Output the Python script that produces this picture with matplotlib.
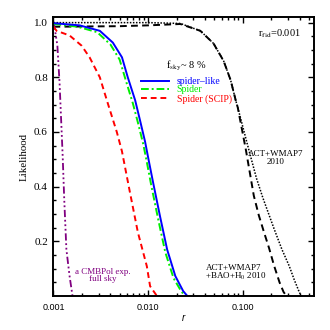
import matplotlib
matplotlib.use("Agg")
import matplotlib.pyplot as plt
from matplotlib.ticker import FixedLocator, FuncFormatter, LogLocator, NullFormatter

plt.rcParams['font.family'] = ['Liberation Serif', 'DejaVu Serif']
plt.rcParams['mathtext.fontset'] = 'stix'

# spider-like (blue, solid)
r_spl = [0.001, 0.00189, 0.00309, 0.00424, 0.0053, 0.0061, 0.0073, 0.0082, 0.0093,
         0.0101, 0.0113, 0.0134, 0.0159, 0.0194, 0.0235, 0.026]
L_spl = [0.998, 0.99, 0.97, 0.927, 0.873, 0.80, 0.716, 0.644, 0.564,
         0.50, 0.415, 0.29, 0.17, 0.073, 0.018, 0.0]

# Spider (green, dash-dot)
r_spi = [0.001, 0.0018, 0.0029, 0.0040, 0.0050, 0.0058, 0.0069, 0.0078, 0.0089,
         0.0097, 0.0108, 0.0128, 0.0152, 0.0186, 0.0226, 0.025]
L_spi = [0.995, 0.985, 0.965, 0.92, 0.865, 0.79, 0.705, 0.635, 0.555,
         0.49, 0.405, 0.28, 0.16, 0.065, 0.015, 0.0]

# Spider (SCIP) (red, dashed)
r_scip = [0.001, 0.00108, 0.00148, 0.00198, 0.00241, 0.00309, 0.00375, 0.00467,
          0.00529, 0.00644, 0.0078, 0.0097, 0.0105, 0.0124]
L_scip = [0.985, 0.97, 0.953, 0.916, 0.873, 0.80, 0.705, 0.60,
          0.53, 0.378, 0.233, 0.109, 0.036, 0.0]

# a CMBPol exp. full sky (purple)
r_cmbpol = [0.001, 0.00102, 0.0011, 0.00116, 0.0012, 0.00125, 0.0013, 0.00137,
            0.00148, 0.00159]
L_cmbpol = [1.0, 0.99, 0.916, 0.78, 0.66, 0.516, 0.353, 0.17, 0.073, 0.0]

# ACT+WMAP7+BAO+H0 2010 (black, dashed)
r_bao = [0.001, 0.005, 0.01, 0.0219, 0.0357, 0.0491, 0.0628, 0.0745, 0.0843,
         0.0886, 0.108, 0.131, 0.148, 0.167, 0.19, 0.215, 0.245, 0.27, 0.29]
L_bao = [0.985, 0.987, 0.99, 0.995, 0.97, 0.924, 0.86, 0.79, 0.716,
         0.69, 0.535, 0.367, 0.295, 0.236, 0.175, 0.11, 0.05, 0.015, 0.0]

# ACT+WMAP7 2010 (black, dotted)
r_act = [0.001, 0.01, 0.0219, 0.0357, 0.0491, 0.0628, 0.0745, 0.0843, 0.0886,
         0.116, 0.14, 0.163, 0.215, 0.26, 0.31, 0.35, 0.39, 0.414]
L_act = [1.0, 1.0, 0.997, 0.97, 0.924, 0.86, 0.79, 0.716, 0.69,
         0.535, 0.43, 0.36, 0.245, 0.17, 0.11, 0.06, 0.02, 0.0]

xticks = [0.001, 0.01, 0.1]
yticks = [0.2, 0.4, 0.6, 0.8, 1.0]

fig = plt.figure(figsize=(3.3, 3.3), dpi=100)
ax = fig.add_axes([0.162, 0.103, 0.788, 0.845])

ax.plot(r_bao, L_bao, color='black', lw=1.4, dashes=(3.5, 2.2))
ax.plot(r_act, L_act, color='black', lw=1.1, ls=(0, (1, 1)))
ax.plot(r_cmbpol, L_cmbpol, color='#800080', lw=1.3,
        dashes=(4, 1.5, 1, 1.5, 1, 1.5, 1, 1.5))
ax.plot(r_spi, L_spi, color='#00ee00', lw=1.4, dashes=(4, 1.5, 1, 1.5), label='Spider')
ax.plot(r_spl, L_spl, color='#0000ff', lw=1.4, label='spider\u2013like')
ax.plot(r_scip, L_scip, color='#ff0000', lw=1.4, dashes=(3, 2), label='Spider (SCIP)')

ax.set_xscale('log')
ax.set_xlim(0.001, 0.56)
ax.set_ylim(0.0, 1.02)

ax.xaxis.set_major_locator(FixedLocator(xticks))
ax.xaxis.set_major_formatter(FuncFormatter(lambda v, p: '%.3f' % v))
ax.xaxis.set_minor_locator(LogLocator(base=10, subs=range(2, 10)))
ax.xaxis.set_minor_formatter(NullFormatter())
ax.yaxis.set_major_locator(FixedLocator(yticks))
ax.yaxis.set_major_formatter(FuncFormatter(lambda v, p: '%.1f' % v))
ax.yaxis.set_minor_locator(FixedLocator([i * 0.05 for i in range(1, 21)]))

ax.tick_params(which='both', direction='in', top=True, right=True, width=1.0)
ax.tick_params(which='major', length=4.5)
ax.tick_params(which='minor', length=2.5)
ax.tick_params(axis='y', labelsize=8, pad=4)
ax.tick_params(axis='x', labelsize=6.5, pad=5)
for lab in ax.get_xticklabels():
    lab.set_fontfamily('Liberation Sans')
for s in ax.spines.values():
    s.set_linewidth(1.4)

ax.set_xlabel('r', fontsize=7, fontfamily='Liberation Sans', style='italic', labelpad=1)
ax.set_ylabel('Likelihood', fontsize=7.8, labelpad=4)

handles, labels = ax.get_legend_handles_labels()
order = [labels.index('spider\u2013like'), labels.index('Spider'), labels.index('Spider (SCIP)')]
leg = ax.legend([handles[i] for i in order], [labels[i] for i in order],
                loc='upper left', bbox_to_anchor=(0.31, 0.81), frameon=False,
                fontsize=7, handlelength=2.9, handletextpad=0.8, labelspacing=-0.05,
                borderpad=0.2, labelcolor='linecolor')

ax.text(0.51, 0.825, 'f$_{\\rm sky}$~ 8 %', transform=ax.transAxes, fontsize=7.5,
        ha='center', va='center')
ax.text(0.95, 0.94, 'r$_{\\rm fid}$=0.001', transform=ax.transAxes, fontsize=7.5,
        ha='right', va='center')
ax.text(0.225, 0.505, 'ACT+WMAP7\n2010', fontsize=6.5, ha='center', va='center',
        linespacing=0.95)
ax.text(0.0404, 0.084, 'ACT+WMAP7\n+BAO+H$_0$ 2010', fontsize=6.5, ha='left',
        va='center', linespacing=0.95)
ax.text(0.0033, 0.075, 'a CMBPol exp.\nfull sky', fontsize=6.5, ha='center',
        va='center', color='#800080', linespacing=0.95)

fig.savefig('out.png', dpi=100)
